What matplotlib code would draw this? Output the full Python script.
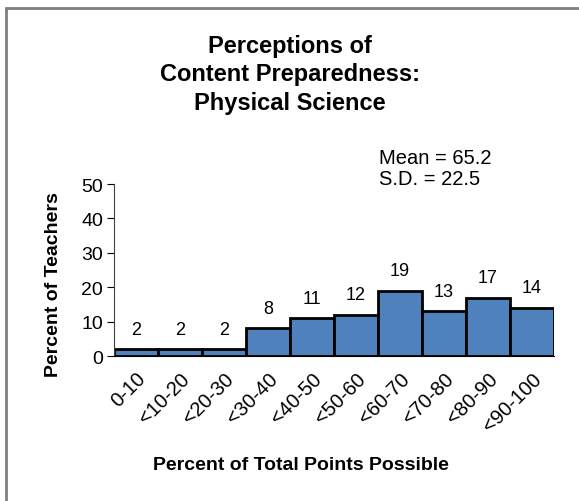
import matplotlib
matplotlib.use('Agg')
import matplotlib.pyplot as plt
from matplotlib.patches import Rectangle

categories = ['0-10', '<10-20', '<20-30', '<30-40', '<40-50',
              '<50-60', '<60-70', '<70-80', '<80-90', '<90-100']
values = [2, 2, 2, 8, 11, 12, 19, 13, 17, 14]
y_ticks = [0, 10, 20, 30, 40, 50]

plt.rcParams['font.family'] = ['Liberation Sans', 'DejaVu Sans']

fig = plt.figure(figsize=(5.79, 5.02), dpi=100)

# gray outer frame, cut off on the right and bottom like the reference
fig.patches.append(Rectangle((6 / 579, -0.1), 1.2, 1 - 9 / 502 + 0.1,
                             transform=fig.transFigure, fill=False,
                             edgecolor='#7f7f7f', linewidth=2, zorder=0))

ax = fig.add_axes([114 / 579, 1 - 357 / 502, 440 / 579, 172 / 502])
x = range(len(categories))
ax.bar(x, values, width=1.0, color='#4F81BD', edgecolor='black', linewidth=2)

for xi, v in zip(x, values):
    ax.text(xi, v + 3.3, str(v), ha='center', va='bottom', fontsize=13)

ax.set_xlim(-0.5, len(categories) - 0.5)
ax.set_ylim(0, 50)
ax.set_yticks(y_ticks)
ax.tick_params(axis='y', labelsize=14, length=5, direction='out', pad=3)
ax.set_xticks(list(x))
ax.set_xticklabels(categories, rotation=45, ha='right', rotation_mode='anchor', fontsize=14.5)
ax.tick_params(axis='x', length=0, pad=9)

for s in ['top', 'right']:
    ax.spines[s].set_visible(False)
ax.spines['left'].set_color('#404040')
ax.spines['bottom'].set_color('black')

fig.text(54 / 579, 1 - 285 / 502, 'Percent of Teachers', rotation=90,
         ha='center', va='center', fontsize=14, fontweight='bold')
fig.text(301 / 579, 1 - 466 / 502, 'Percent of Total Points Possible',
         ha='center', va='center', fontsize=14, fontweight='bold')

fig.text(290 / 579, 1 - 75 / 502,
         'Perceptions of\nContent Preparedness:\nPhysical Science',
         ha='center', va='center', fontsize=17, fontweight='bold', linespacing=1.28)

fig.text(379 / 579, 1 - 169 / 502, 'Mean = 65.2\nS.D. = 22.5',
         ha='left', va='center', fontsize=14.5, linespacing=1.12)

fig.savefig('out.png', dpi=100)
